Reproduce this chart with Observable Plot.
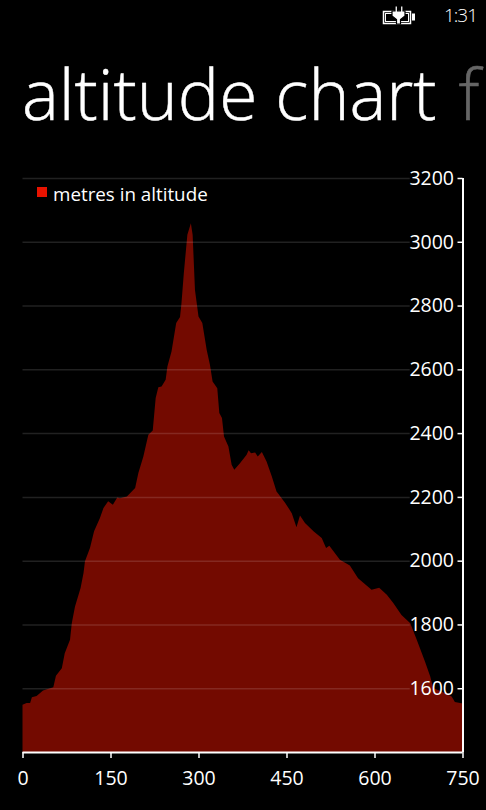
<!DOCTYPE html>
<html><head><meta charset="utf-8">
<script src="https://cdn.jsdelivr.net/npm/d3@7"></script>
<script src="https://cdn.jsdelivr.net/npm/@observablehq/plot@0.6"></script>
<style>
html,body{margin:0;padding:0;background:#000;width:486px;height:810px;overflow:hidden;font-family:"Open Sans",sans-serif;color:#fff}
#page{position:relative;width:486px;height:810px;overflow:hidden}
#time{position:absolute;left:444px;top:2px;font-size:19px;font-weight:300;line-height:26px;letter-spacing:-1px}
#batt{position:absolute;left:382px;top:5px}
#title{position:absolute;left:22px;top:43px;font-size:69.500px;font-weight:300;line-height:100px;white-space:nowrap;-webkit-text-stroke:0.500px currentColor}
#title span{color:#666;margin-left:4px}
#legend{position:absolute;left:37px;top:180px;display:flex;align-items:center;font-size:18.800px;line-height:28px}
#legend i{display:block;width:10px;height:10px;background:#e81300;margin-right:6px;margin-top:-4px}
#chart{position:absolute;left:0;top:160px}
svg{display:block}
</style></head><body>
<div id="page">
<svg id="batt" width="34" height="20" viewBox="0 0 34 20"><rect x="1.500" y="6.500" width="27" height="12" fill="none" stroke="#fff" stroke-width="1.500"/><rect x="3.500" y="8.500" width="23" height="8" fill="none" stroke="#fff" stroke-width="1"/><path d="M13 1h2.500v5h3V1H21v5h2v5l-4.500 3.500V19h-4v-4.500L10 11V6h3z" fill="#fff" stroke="#000" stroke-width="1.200"/><rect x="30" y="8.500" width="3" height="7" fill="#fff"/></svg>
<div id="time">1:31</div>
<div id="title">altitude chart <span>f</span></div>
<div id="chart"></div>
<div id="legend"><i></i>metres in altitude</div>
</div>
<script>
const seriesName = "metres in altitude";
const baseAltitude = 1400;
const gridEnd = 660;
const xTicks = [0,150,300,450,600,750];
const yTicks = [1600,1800,2000,2200,2400,2600,2800,3000,3200];
const distance = [0,7,13,16,24,35,52.5,57,67,72,81,84,89.5,99,104,106.5,115,122,132,138,146,154,161.5,166,178,192,195,197.5,206,214.5,222,227,231.5,237,244,247,254,262,268.5,271,275,281,287,290,294,300,306.5,314,319.5,324,332,335.5,340,343.5,351,356.5,361,371,382,385.5,389.5,396.5,401,408,416,425,433,436,447.5,459,467,473,481.5,496,510,517.5,523,541,558,572,587,595,608,621,632,646,661,672,686,695,700,720,731.5,737,746,750];
const altitude = [1548,1554,1554,1572,1576,1593,1603,1639,1663,1710,1752,1804,1856,1914,1961,1998,2040,2092,2134,2165,2186,2175,2198,2196,2201,2228,2254,2275,2327,2395,2408,2510,2544,2546,2567,2609,2656,2745,2764,2808,2902,3022,3058,3022,2849,2766,2745,2661,2614,2562,2541,2463,2447,2389,2358,2301,2285,2306,2332,2346,2337,2339,2327,2341,2311,2264,2217,2210,2182,2149,2105,2142,2118,2092,2071,2040,2047,2003,1985,1945,1921,1909,1915,1893,1867,1830,1804,1752,1684,1637,1601,1585,1574,1557,1554,1552];
const rows = distance.map((d,i)=>({distance:d, altitude:altitude[i]}));
const chart = Plot.plot({
  width:486, height:640,
  marginLeft:22.5, marginRight:23.5, marginTop:18, marginBottom:48,
  style:{background:"transparent", color:"#fff", fontFamily:"'Open Sans',sans-serif"},
  x:{domain:[0,750], label:null},
  y:{domain:[baseAltitude,3200], label:null},
  marks:[
    Plot.area(rows,{x1:"distance", y1:()=>baseAltitude, y2:"altitude", fill:"#730a00"}),
    Plot.ruleY(yTicks,{x1:0, x2:gridEnd, stroke:"#fff", strokeOpacity:0.13, strokeWidth:1.5}),
    Plot.ruleX([750],{stroke:"#fff", strokeWidth:2}),
    Plot.ruleY([baseAltitude],{stroke:"#fff", strokeWidth:2}),
    Plot.axisY(yTicks,{anchor:"left", x:750, tickSize:5, tickPadding:4, fontSize:19.500, stroke:"#fff", strokeWidth:1.5, tickFormat:d=>String(d)}),
    Plot.axisX(xTicks,{anchor:"bottom", tickSize:6, tickPadding:13, fontSize:19.500, stroke:"#fff", strokeWidth:1.5, tickFormat:d=>String(d)})
  ]
});
document.getElementById("chart").appendChild(chart);
</script>
</body></html>
